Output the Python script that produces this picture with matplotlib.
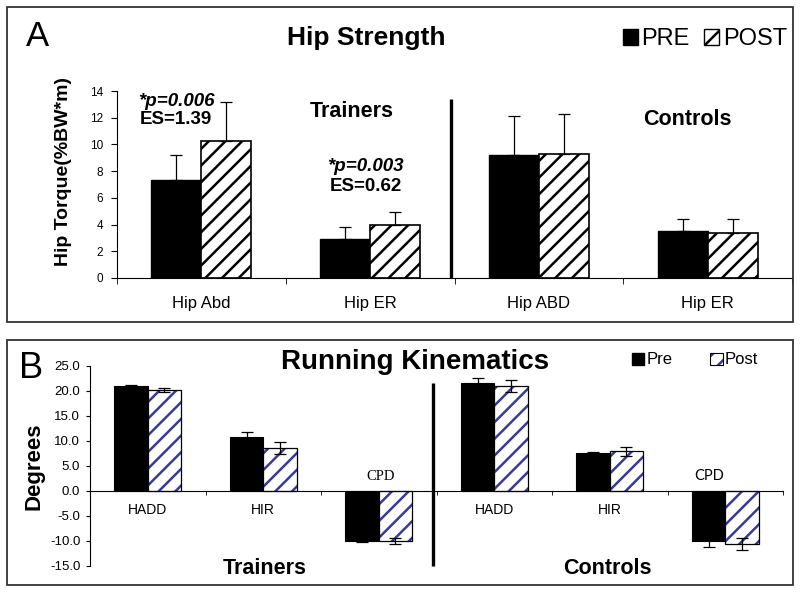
import numpy as np
import matplotlib
matplotlib.use("Agg")
import matplotlib.pyplot as plt
from matplotlib.patches import Rectangle, Patch

plt.rcParams['font.family'] = ['Liberation Sans', 'DejaVu Sans']
plt.rcParams['hatch.linewidth'] = 1.8

# panel A: hip strength
a_cats = ['Hip Abd', 'Hip ER', 'Hip ABD', 'Hip ER']
a_pre = [7.3, 2.95, 9.2, 3.5]
a_pre_err = [1.9, 0.9, 2.95, 0.9]
a_post = [10.25, 3.95, 9.3, 3.4]
a_post_err = [2.9, 1.0, 3.0, 1.0]

# panel B: running kinematics
b_cats = ['HADD', 'HIR', '', 'HADD', 'HIR', '']
b_pre = [20.9, 10.8, -10.0, 21.6, 7.5, -10.1]
b_pre_err = [0.3, 1.0, 0.2, 1.0, 0.3, 1.2]
b_post = [20.1, 8.5, -10.0, 21.0, 7.9, -10.7]
b_post_err = [0.4, 1.2, 0.6, 1.2, 0.9, 1.2]

blue = '#3a3a98'
W = 800.0
H = 593.0

fig = plt.figure(figsize=(8, 5.93), dpi=100)

# frames round the two panels
fig.add_artist(Rectangle((7 / W, 1 - 322 / H), 786 / W, 315 / H, transform=fig.transFigure,
                         fill=False, lw=1.3, ec='#333333'))
fig.add_artist(Rectangle((7 / W, 1 - 585 / H), 786 / W, 245 / H, transform=fig.transFigure,
                         fill=False, lw=1.3, ec='#333333'))

# ---------- A ----------
axA = fig.add_axes([117 / W, 1 - 278 / H, 675 / W, 187 / H])
x = np.arange(len(a_cats))
bw = 0.296
axA.bar(x - bw / 2, a_pre, bw, color='black', edgecolor='black', lw=1, zorder=2)
axA.bar(x + bw / 2, a_post, bw, color='white', edgecolor='black', hatch='//', lw=1.2, zorder=2)
axA.errorbar(x - bw / 2, a_pre, yerr=[np.zeros(4), a_pre_err], fmt='none', ecolor='black',
             elinewidth=0.9, capsize=4, capthick=0.9, zorder=3)
axA.errorbar(x + bw / 2, a_post, yerr=[np.zeros(4), a_post_err], fmt='none', ecolor='black',
             elinewidth=0.9, capsize=4, capthick=0.9, zorder=3)
axA.set_xlim(-0.5, 3.5)
axA.set_ylim(0, 14)
axA.set_yticks(np.arange(0, 15, 2))
axA.tick_params(axis='y', labelsize=8.5, length=4, pad=6)
axA.set_xticks(x, a_cats)
axA.set_xticks(np.arange(-0.5, 4, 1), minor=True)
axA.tick_params(axis='x', which='major', length=0, labelsize=12, pad=13)
axA.tick_params(axis='x', which='minor', length=4)
for s in ['top', 'right']:
    axA.spines[s].set_visible(False)
axA.patch.set_alpha(0)
axA.vlines(1.48, 0, 13.4, color='black', lw=2.4)

axA.text(-0.15, 13.25, '*p=0.006', ha='center', va='center', fontsize=13.5,
         fontweight='bold', fontstyle='italic')
axA.text(-0.15, 11.9, 'ES=1.39', ha='center', va='center', fontsize=13.5, fontweight='bold')
axA.text(0.975, 8.38, '*p=0.003', ha='center', va='center', fontsize=13.5,
         fontweight='bold', fontstyle='italic')
axA.text(0.975, 6.85, 'ES=0.62', ha='center', va='center', fontsize=13.5, fontweight='bold')
axA.text(0.89, 12.5, 'Trainers', ha='center', va='center', fontsize=15.5, fontweight='bold')
axA.text(2.88, 11.86, 'Controls', ha='center', va='center', fontsize=15.5, fontweight='bold')

fig.text(38 / W, 1 - 37 / H, 'A', ha='center', va='center', fontsize=25)
fig.text(366 / W, 1 - 38 / H, 'Hip Strength', ha='center', va='center', fontsize=19,
         fontweight='bold')
fig.text(63 / W, 1 - 171 / H, 'Hip Torque(%BW*m)', rotation=90, ha='center', va='center',
         fontsize=14, fontweight='bold')

legA = [Patch(facecolor='black', edgecolor='black'),
        Patch(facecolor='white', edgecolor='black', hatch='//')]
fig.legend(legA, ['PRE', 'POST'], loc='center right', bbox_to_anchor=(787 / W, 1 - 39 / H),
           ncol=2, frameon=False, fontsize=17, handlelength=0.65, handleheight=0.65,
           handletextpad=0.15, columnspacing=0.6, borderpad=0, borderaxespad=0)

# ---------- B ----------
axB = fig.add_axes([90 / W, 1 - 565.7 / H, 693 / W, 200 / H])
xb = np.arange(len(b_cats))
bw = 0.29
axB.bar(xb - bw / 2, b_pre, bw, color='black', edgecolor='black', lw=0.8, zorder=2)
axB.bar(xb + bw / 2, b_post, bw, color='white', edgecolor=blue, hatch='//', lw=0, zorder=2)
axB.bar(xb + bw / 2, b_post, bw, fill=False, edgecolor='black', lw=0.9, zorder=2.5)
axB.errorbar(xb - bw / 2, b_pre, yerr=b_pre_err, fmt='none', ecolor='black',
             elinewidth=0.9, capsize=4, capthick=0.9, zorder=3)
axB.errorbar(xb + bw / 2, b_post, yerr=b_post_err, fmt='none', ecolor='black',
             elinewidth=0.9, capsize=4, capthick=0.9, zorder=3)
axB.set_xlim(-0.5, 5.5)
axB.set_ylim(-15, 25)
axB.set_yticks(np.arange(-15, 26, 5))
axB.set_yticklabels(['%.1f' % v for v in np.arange(-15, 26, 5)])
axB.tick_params(axis='y', labelsize=9.5, length=3, pad=4)
axB.set_xticks(xb, b_cats)
axB.set_xticks(np.arange(-0.5, 6, 1), minor=True)
axB.tick_params(axis='x', which='major', length=0, labelsize=10, pad=9)
axB.tick_params(axis='x', which='minor', length=3)
for lab in axB.get_xticklabels()[3:]:
    lab.set_fontfamily(['Lato', 'DejaVu Sans'])
    lab.set_fontsize(10.5)
axB.spines['bottom'].set_position(('data', 0))
for s in ['top', 'right']:
    axB.spines[s].set_visible(False)
axB.patch.set_alpha(0)
axB.vlines(2.47, -15.1, 21.5, color='black', lw=2.4, clip_on=False)

axB.text(2.02, 2.9, 'CPD', ha='center', va='center', fontsize=10.5,
         fontfamily=['Liberation Serif', 'DejaVu Serif'])
axB.text(4.86, 2.9, 'CPD', ha='center', va='center', fontsize=10.5,
         fontfamily=['Lato', 'DejaVu Sans'])

fig.text(31 / W, 1 - 368 / H, 'B', ha='center', va='center', fontsize=26)
fig.text(415 / W, 1 - 362 / H, 'Running Kinematics', ha='center', va='center', fontsize=20,
         fontweight='bold')
fig.text(34 / W, 1 - 466 / H, 'Degrees', rotation=90, ha='center', va='center',
         fontsize=16, fontweight='bold')
fig.text(265 / W, 1 - 569 / H, 'Trainers', ha='center', va='center', fontsize=15.5,
         fontweight='bold')
fig.text(607 / W, 1 - 569 / H, 'Controls', ha='center', va='center', fontsize=15.5,
         fontweight='bold')

legB = [Patch(facecolor='black', edgecolor='black'),
        (Patch(facecolor='white', edgecolor=blue, hatch='//', lw=0),
         Patch(fill=False, edgecolor='black', lw=0.8))]
fig.legend(legB, ['Pre', 'Post'], loc='center right', bbox_to_anchor=(758 / W, 1 - 360 / H),
           ncol=2, frameon=False, fontsize=12, handlelength=0.75, handleheight=0.75,
           handletextpad=0.1, columnspacing=2.3, borderpad=0, borderaxespad=0)

fig.savefig('out.png', dpi=100)
